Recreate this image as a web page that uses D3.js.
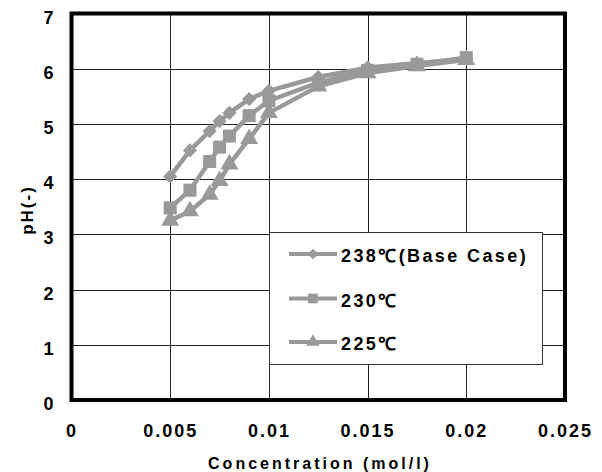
<!DOCTYPE html>
<html lang="en">
<head>
<meta charset="UTF-8" />
<title>pH vs Concentration</title>
<script src="https://d3js.org/d3.v7.min.js"></script>
<style>
  * { margin: 0; padding: 0; box-sizing: border-box; }
  body { background: #fff; }
  svg text { font-family: 'Liberation Sans', Arial, sans-serif; font-weight: bold; fill: #000; }
  .grid line { stroke: #222; stroke-width: 1px; shape-rendering: crispEdges; }
  .grid .domain { display: none; }
</style>
</head>
<body>
<svg id="chart" width="602" height="472"></svg>
<script>
// data
const conc = [0.005, 0.006, 0.007, 0.0075, 0.008, 0.009, 0.01, 0.0125, 0.015, 0.0175, 0.02];
const ph238 = [4.05, 4.52, 4.87, 5.05, 5.2, 5.45, 5.6, 5.85, 6.02, 6.1, 6.18];
const ph230 = [3.48, 3.8, 4.32, 4.58, 4.78, 5.15, 5.42, 5.75, 5.97, 6.08, 6.2];
const ph225 = [3.25, 3.42, 3.72, 3.97, 4.27, 4.73, 5.2, 5.68, 5.92, 6.05, 6.16];
const seriesNames = ['238℃(Base Case)', '230℃', '225℃'];
const xTicks = [0, 0.005, 0.01, 0.015, 0.02, 0.025];
const xTickLabels = ['0', '0.005', '0.01', '0.015', '0.02', '0.025'];
const yTicks = [0, 1, 2, 3, 4, 5, 6, 7];

const svg = d3.select('#chart');
const plotL = 71.5, plotR = 565, plotT = 13.5, plotB = 400;
const grey = '#999999';

const x = d3.scaleLinear().domain([0, 0.025]).range([plotL, plotR]);
const y = d3.scaleLinear().domain([0, 7]).range([plotB, plotT]);

// grid lines
svg.append('g')
  .attr('class', 'grid')
  .attr('transform', 'translate(0,' + plotB + ')')
  .call(d3.axisBottom(x).tickValues(xTicks).tickSize(-(plotB - plotT)).tickFormat((d, i) => xTickLabels[i]))
  .call(g => g.selectAll('text')
    .attr('y', 37).attr('dy', 0)
    .style('font-size', '18px')
    .style('letter-spacing', '2px'));

svg.append('g')
  .attr('class', 'grid')
  .attr('transform', 'translate(' + plotL + ',0)')
  .call(d3.axisLeft(y).tickValues(yTicks).tickSize(-(plotR - plotL)).tickFormat(d3.format('d')))
  .call(g => g.selectAll('text')
    .attr('x', -18).attr('dy', 9.5)
    .style('font-size', '18px'));

// frame
svg.append('rect')
  .attr('x', plotL).attr('y', plotT)
  .attr('width', plotR - plotL).attr('height', plotB - plotT)
  .attr('fill', 'none').attr('stroke', '#000').attr('stroke-width', 4);

const line = d3.line().x(d => x(d[0])).y(d => y(d[1]));
// diamond = square turned 45 degrees
const symbols = [d3.symbolSquare, d3.symbolSquare, d3.symbolTriangle];
const symTurn = [45, 0, 0];
const symSize = [100, 170, 140];
const all = [ph238, ph230, ph225];

all.forEach((vals, k) => {
  const pts = conc.map((c, i) => [c, vals[i]]);
  svg.append('path')
    .datum(pts)
    .attr('d', line)
    .attr('fill', 'none')
    .attr('stroke', grey)
    .attr('stroke-width', 4.5)
    .attr('stroke-linejoin', 'round');
  svg.append('g').selectAll('path')
    .data(pts)
    .join('path')
    .attr('transform', d => 'translate(' + x(d[0]) + ',' + y(d[1]) + ') rotate(' + symTurn[k] + ')')
    .attr('d', d3.symbol().type(symbols[k]).size(symSize[k]))
    .attr('fill', grey);
});

// legend
const lg = svg.append('g');
lg.append('rect')
  .attr('x', 269.5).attr('y', 232.5)
  .attr('width', 273).attr('height', 132)
  .attr('fill', '#fff').attr('stroke', '#333').attr('stroke-width', 1);
const legY = [254, 298.5, 342];
seriesNames.forEach((name, k) => {
  lg.append('line')
    .attr('x1', 289).attr('x2', 337)
    .attr('y1', legY[k]).attr('y2', legY[k])
    .attr('stroke', grey).attr('stroke-width', 4);
  lg.append('path')
    .attr('transform', 'translate(313,' + legY[k] + ') rotate(' + symTurn[k] + ')')
    .attr('d', d3.symbol().type(symbols[k]).size(symSize[k] * 0.55))
    .attr('fill', grey);
  lg.append('text')
    .attr('x', 341).attr('y', legY[k] + 8)
    .style('font-size', '18px')
    .style('letter-spacing', '2.4px')
    .text(name);
});

// axis titles
svg.append('text')
  .attr('x', 320).attr('y', 469)
  .attr('text-anchor', 'middle')
  .style('font-size', '16px')
  .style('letter-spacing', '3px')
  .text('Concentration (mol/l)');

svg.append('text')
  .attr('transform', 'translate(33,210) rotate(-90)')
  .attr('text-anchor', 'middle')
  .style('font-size', '17px')
  .style('letter-spacing', '2px')
  .text('pH(-)');
</script>
</body>
</html>
